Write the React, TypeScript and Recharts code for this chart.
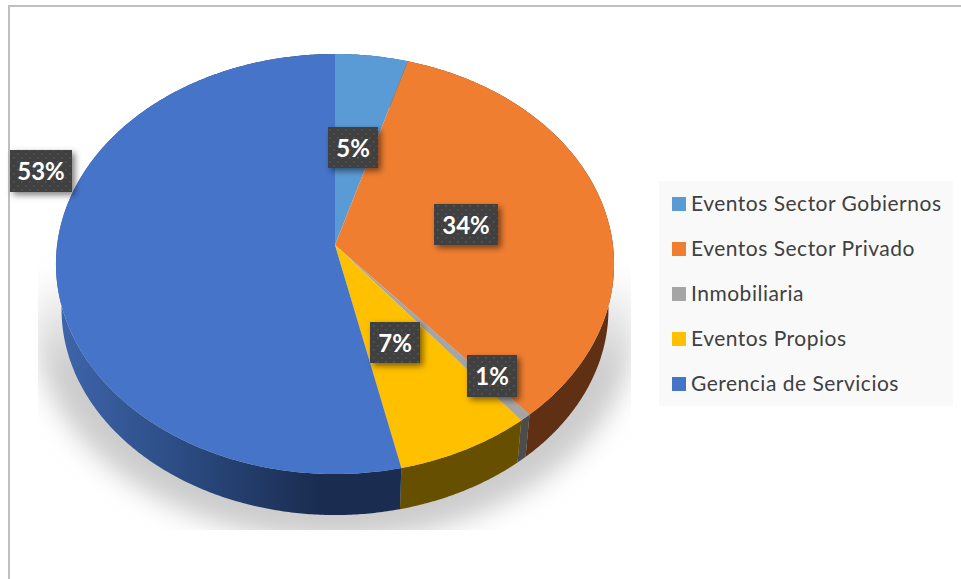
import React from "react";
import { PieChart, Pie, Legend } from "recharts";

const categories = ["Eventos Sector Gobiernos", "Eventos Sector Privado", "Inmobiliaria", "Eventos Propios", "Gerencia de Servicios"];
const shares = [4.6, 34.1, 0.6, 7.21, 53.49];
const topColors = ["#5B9BD5", "#F07E31", "#A5A5A5", "#FFC000", "#4674C9"];
const wallColors = ["#2c4f70", "#5F3013", "#4C4C4C", "#665000", "url(#blueWall)"];

const tableData = categories.map((name, i) => ({ name, value: shares[i], fill: topColors[i] }));

// Label boxes: x, y, width, height, as placed on the page by hand in the reference
const labelBoxes = [
  [328, 127, 50, 41],
  [434, 204, 64, 41],
  [467, 355, 50, 42],
  [370, 322, 50, 41],
  [10, 150, 62, 42],
];

// Perspective of the tilted disc
const P = 0.0905;
const SY = 208.3 / 190;
const SX = 277.9 / 190;
const project = (cx: number, cy: number, r: number, deg: number) => {
  const a = (deg * Math.PI) / 180;
  const u = Math.cos(a);
  const v = Math.sin(a);
  const d = 1 + P * v;
  return [cx + (SX * r * u) / d, cy - (SY * r * v) / d];
};
const DEPTH = 45.6;
const SHRINK = 0.98;

const TiltedSlice = (props: any) => {
  const { cx, cy, outerRadius, startAngle, endAngle, fill, index } = props;
  const i = index ?? categories.indexOf(props.name);
  const n = Math.max(2, Math.ceil(Math.abs(endAngle - startAngle) * 2));
  const rim: number[][] = [];
  for (let k = 0; k <= n; k++) {
    rim.push(project(cx, cy, outerRadius, startAngle + ((endAngle - startAngle) * k) / n));
  }
  const low = rim.map(([x, y]) => [cx + (x - cx) * SHRINK, cy + (y - cy) * SHRINK + DEPTH]);
  const toPath = (pts: number[][]) => pts.map(([x, y]) => `${x.toFixed(2)} ${y.toFixed(2)}`).join(" L");
  return (
    <g>
      <path d={`M${toPath(rim)} L${toPath([...low].reverse())} Z`} fill={wallColors[i]} />
      <path d={`M${cx} ${cy} L${toPath(rim)} Z`} fill={fill} />
    </g>
  );
};

const renderLabel = (props: any) => {
  const { index, percent } = props;
  const [x, y, w, h] = labelBoxes[index];
  return (
    <g key={index}>
      <rect x={x} y={y} width={w} height={h} fill="#404040" filter="url(#labelShadow)" />
      <rect x={x} y={y} width={w} height={h} fill="url(#labelDots)" />
      <text
        x={x + w / 2}
        y={y + h / 2 + 9}
        textAnchor="middle"
        fill="#ffffff"
        fontFamily="Lato, sans-serif"
        fontWeight={700}
        fontSize={24}
      >
        {Math.max(1, Math.round(percent * 100))}%
      </text>
    </g>
  );
};

const legendContent = (props: any) => (
  <div style={{ background: "#f9f9f9", width: 294, height: 225, boxSizing: "border-box", paddingTop: 0, position: "relative" }}>
    {(props.payload || []).map((item: any, i: number) => (
      <div
        key={item.value}
        style={{ position: "absolute", left: 13, top: 2 + i * 45, height: 42, display: "flex", alignItems: "center" }}
      >
        <span style={{ width: 14, height: 14, flexShrink: 0, background: item.color, display: "inline-block", marginRight: 5 }} />
        <span style={{ position: "relative", top: -1.5, fontFamily: "Lato, sans-serif", fontSize: 21, letterSpacing: 0.5, color: "#404040", whiteSpace: "nowrap" }}>
          {item.value}
        </span>
      </div>
    ))}
  </div>
);

export default function App() {
  return (
    <div style={{ position: "absolute", left: 0, top: 0, width: 961, height: 579, overflow: "hidden", background: "#fff" }}>
      <div style={{ position: "absolute", left: 8, top: 5, width: 953, height: 574, borderLeft: "2px solid #bfbfbf", borderTop: "2px solid #bfbfbf", boxSizing: "border-box" }} />
      <svg width={961} height={579} style={{ position: "absolute", left: 0, top: 0 }}>
        <defs>
          <filter id="groundBlur" x="-20%" y="-20%" width="140%" height="140%">
            <feGaussianBlur stdDeviation="13" />
          </filter>
          <clipPath id="groundClip">
            <rect x={38} y={200} width={593} height={330} />
          </clipPath>
          <linearGradient id="groundFade" x1="0" y1="270" x2="0" y2="370" gradientUnits="userSpaceOnUse">
            <stop offset="0" stopColor="#cccccc" stopOpacity={0} />
            <stop offset="1" stopColor="#cccccc" stopOpacity={1} />
          </linearGradient>
        </defs>
        <g clipPath="url(#groundClip)">
          <ellipse cx={335} cy={322} rx={300} ry={218} fill="url(#groundFade)" filter="url(#groundBlur)" />
        </g>
      </svg>
      <div style={{ position: "absolute", left: 0, top: 0 }}>
        <PieChart width={961} height={579} margin={{ top: 0, right: 0, bottom: 0, left: 0 }}>
          <defs>
            <linearGradient id="blueWall" x1="56" y1="0" x2="320" y2="0" gradientUnits="userSpaceOnUse">
              <stop offset="0" stopColor="#3f66ac" />
              <stop offset="0.5" stopColor="#2a4a80" />
              <stop offset="1" stopColor="#1a2c50" />
            </linearGradient>
            <pattern id="labelDots" width="8" height="8" patternUnits="userSpaceOnUse">
              <rect x="1" y="1" width="1.6" height="1.6" fill="#555555" />
              <rect x="5" y="5" width="1.6" height="1.6" fill="#555555" />
            </pattern>
            <filter id="labelShadow" x="-30%" y="-30%" width="170%" height="170%">
              <feDropShadow dx="3" dy="3" stdDeviation="3" floodColor="#000" floodOpacity="0.5" />
            </filter>
          </defs>
          <Pie
            data={tableData}
            dataKey="value"
            nameKey="name"
            cx={335}
            cy={245}
            outerRadius={190}
            startAngle={90}
            endAngle={-270}
            stroke="none"
            shape={TiltedSlice}
            label={renderLabel}
            labelLine={false}
            isAnimationActive={false}
          />
          <Legend
            layout="vertical"
            itemSorter={null}
            content={legendContent}
            wrapperStyle={{ position: "absolute", left: 659, top: 181, width: 294, height: 225 }}
          />
        </PieChart>
      </div>
    </div>
  );
}
